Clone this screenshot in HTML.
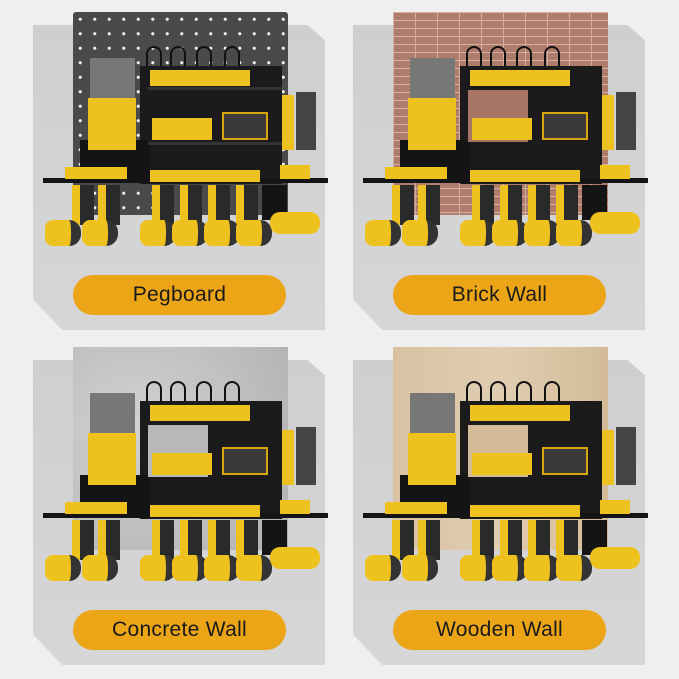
<!DOCTYPE html>
<html><head><meta charset="utf-8"><style>
*{margin:0;padding:0;box-sizing:border-box}
body{width:679px;height:679px;background:#efefef;position:relative;overflow:hidden;font-family:"Liberation Sans",sans-serif}
.q{position:absolute;width:340px;height:340px}
.card{position:absolute;left:33px;top:25px;width:292px;height:305px;background:linear-gradient(180deg,#cfcfcf,#d6d6d6);clip-path:polygon(0 0,94% 0,100% 5%,100% 100%,10% 100%,0 90%)}
.wall{position:absolute;left:73px;top:12px;width:215px;height:203px}
.peg{background-color:#4a4a4c;background-image:radial-gradient(circle,#eee 1.4px,transparent 1.8px);background-size:14.5px 14.5px;border-radius:3px}
.brick{background-color:#b07c6c;background-image:linear-gradient(#d4aea2 1px,transparent 1px),linear-gradient(90deg,#d4aea2 1px,transparent 1px);background-size:22px 8px}
.conc{background:#c2c2c2;background-image:radial-gradient(circle at 30% 40%,#d2d2d2,#b0b0b0)}
.wood{background:linear-gradient(90deg,#d8c2a2,#e0cdb0,#d3bb98)}
.b{position:absolute}
.k{background:#141414}
.y{background:#eec21e}
.yd{background:#d9a50c}
.pill{position:absolute;left:73px;top:275px;width:213px;height:40px;border-radius:20px;background:#eba517;color:#1a1a1a;font-size:21px;font-weight:normal;text-align:center;line-height:40px;letter-spacing:.3px}
.cab{position:absolute;top:46px;width:16px;height:22px;border:2px solid #111;border-bottom:none;border-radius:8px 8px 0 0}
.dr{position:absolute;top:185px;width:22px;height:40px;background:#2a2a2a;border-left:8px solid #eec21e}
.dh{position:absolute;top:220px;width:36px;height:26px;background:#eec21e;border-radius:8px 12px 12px 8px;border-right:10px solid #333}
</style></head><body>

<div class="q" style="left:0;top:0">
<div class="card"></div><div class="wall peg"></div>
<div class="cab" style="left:146px"></div><div class="cab" style="left:170px"></div><div class="cab" style="left:196px"></div><div class="cab" style="left:224px"></div>
<div class="b" style="left:140px;top:66px;width:142px;height:118px;background:#1b1b1b"></div>
<div class="b k" style="left:80px;top:140px;width:70px;height:40px"></div>
<div class="b y" style="left:150px;top:70px;width:100px;height:16px"></div>
<div class="b" style="left:148px;top:87px;width:134px;height:3px;background:#333"></div>
<div class="b" style="left:148px;top:142px;width:134px;height:3px;background:#333"></div>
<div class="b y" style="left:152px;top:118px;width:60px;height:22px"></div>
<div class="b" style="left:222px;top:112px;width:46px;height:28px;background:#3a3a3a;border:2px solid #d9a50c"></div>
<div class="b y" style="left:88px;top:98px;width:48px;height:52px"></div>
<div class="b" style="left:90px;top:58px;width:45px;height:40px;background:#777"></div>
<div class="b y" style="left:282px;top:95px;width:12px;height:55px"></div>
<div class="b" style="left:296px;top:92px;width:20px;height:58px;background:#444"></div>
<div class="b k" style="left:43px;top:178px;width:285px;height:5px"></div>
<div class="b y" style="left:65px;top:167px;width:62px;height:12px"></div>
<div class="b y" style="left:150px;top:170px;width:110px;height:12px"></div>
<div class="b y" style="left:280px;top:165px;width:30px;height:14px"></div>
<div class="dr" style="left:72px"></div><div class="dr" style="left:98px"></div>
<div class="dh" style="left:45px"></div><div class="dh" style="left:82px"></div>
<div class="dr" style="left:152px"></div><div class="dr" style="left:180px"></div><div class="dr" style="left:208px"></div><div class="dr" style="left:236px"></div>
<div class="dh" style="left:140px"></div><div class="dh" style="left:172px"></div><div class="dh" style="left:204px"></div><div class="dh" style="left:236px"></div>
<div class="b k" style="left:262px;top:185px;width:25px;height:35px"></div>
<div class="b y" style="left:270px;top:212px;width:50px;height:22px;border-radius:10px"></div>
<div class="pill">Pegboard</div>
</div>

<div class="q" style="left:320px;top:0">
<div class="card"></div><div class="wall brick"></div>
<div class="cab" style="left:146px"></div><div class="cab" style="left:170px"></div><div class="cab" style="left:196px"></div><div class="cab" style="left:224px"></div>
<div class="b" style="left:140px;top:66px;width:142px;height:118px;background:#1b1b1b"></div>
<div class="b k" style="left:80px;top:140px;width:70px;height:40px"></div>
<div class="b y" style="left:150px;top:70px;width:100px;height:16px"></div>
<div class="b" style="left:148px;top:90px;width:60px;height:52px;background:#a87565"></div>
<div class="b y" style="left:152px;top:118px;width:60px;height:22px"></div>
<div class="b" style="left:222px;top:112px;width:46px;height:28px;background:#3a3a3a;border:2px solid #d9a50c"></div>
<div class="b y" style="left:88px;top:98px;width:48px;height:52px"></div>
<div class="b" style="left:90px;top:58px;width:45px;height:40px;background:#777"></div>
<div class="b y" style="left:282px;top:95px;width:12px;height:55px"></div>
<div class="b" style="left:296px;top:92px;width:20px;height:58px;background:#444"></div>
<div class="b k" style="left:43px;top:178px;width:285px;height:5px"></div>
<div class="b y" style="left:65px;top:167px;width:62px;height:12px"></div>
<div class="b y" style="left:150px;top:170px;width:110px;height:12px"></div>
<div class="b y" style="left:280px;top:165px;width:30px;height:14px"></div>
<div class="dr" style="left:72px"></div><div class="dr" style="left:98px"></div>
<div class="dh" style="left:45px"></div><div class="dh" style="left:82px"></div>
<div class="dr" style="left:152px"></div><div class="dr" style="left:180px"></div><div class="dr" style="left:208px"></div><div class="dr" style="left:236px"></div>
<div class="dh" style="left:140px"></div><div class="dh" style="left:172px"></div><div class="dh" style="left:204px"></div><div class="dh" style="left:236px"></div>
<div class="b k" style="left:262px;top:185px;width:25px;height:35px"></div>
<div class="b y" style="left:270px;top:212px;width:50px;height:22px;border-radius:10px"></div>
<div class="pill">Brick Wall</div>
</div>

<div class="q" style="left:0;top:335px">
<div class="card"></div><div class="wall conc"></div>
<div class="cab" style="left:146px"></div><div class="cab" style="left:170px"></div><div class="cab" style="left:196px"></div><div class="cab" style="left:224px"></div>
<div class="b" style="left:140px;top:66px;width:142px;height:118px;background:#1b1b1b"></div>
<div class="b k" style="left:80px;top:140px;width:70px;height:40px"></div>
<div class="b y" style="left:150px;top:70px;width:100px;height:16px"></div>
<div class="b" style="left:148px;top:90px;width:60px;height:52px;background:#b8b8b8"></div>
<div class="b y" style="left:152px;top:118px;width:60px;height:22px"></div>
<div class="b" style="left:222px;top:112px;width:46px;height:28px;background:#3a3a3a;border:2px solid #d9a50c"></div>
<div class="b y" style="left:88px;top:98px;width:48px;height:52px"></div>
<div class="b" style="left:90px;top:58px;width:45px;height:40px;background:#777"></div>
<div class="b y" style="left:282px;top:95px;width:12px;height:55px"></div>
<div class="b" style="left:296px;top:92px;width:20px;height:58px;background:#444"></div>
<div class="b k" style="left:43px;top:178px;width:285px;height:5px"></div>
<div class="b y" style="left:65px;top:167px;width:62px;height:12px"></div>
<div class="b y" style="left:150px;top:170px;width:110px;height:12px"></div>
<div class="b y" style="left:280px;top:165px;width:30px;height:14px"></div>
<div class="dr" style="left:72px"></div><div class="dr" style="left:98px"></div>
<div class="dh" style="left:45px"></div><div class="dh" style="left:82px"></div>
<div class="dr" style="left:152px"></div><div class="dr" style="left:180px"></div><div class="dr" style="left:208px"></div><div class="dr" style="left:236px"></div>
<div class="dh" style="left:140px"></div><div class="dh" style="left:172px"></div><div class="dh" style="left:204px"></div><div class="dh" style="left:236px"></div>
<div class="b k" style="left:262px;top:185px;width:25px;height:35px"></div>
<div class="b y" style="left:270px;top:212px;width:50px;height:22px;border-radius:10px"></div>
<div class="pill">Concrete Wall</div>
</div>

<div class="q" style="left:320px;top:335px">
<div class="card"></div><div class="wall wood"></div>
<div class="cab" style="left:146px"></div><div class="cab" style="left:170px"></div><div class="cab" style="left:196px"></div><div class="cab" style="left:224px"></div>
<div class="b" style="left:140px;top:66px;width:142px;height:118px;background:#1b1b1b"></div>
<div class="b k" style="left:80px;top:140px;width:70px;height:40px"></div>
<div class="b y" style="left:150px;top:70px;width:100px;height:16px"></div>
<div class="b" style="left:148px;top:90px;width:60px;height:52px;background:#d3bb98"></div>
<div class="b y" style="left:152px;top:118px;width:60px;height:22px"></div>
<div class="b" style="left:222px;top:112px;width:46px;height:28px;background:#3a3a3a;border:2px solid #d9a50c"></div>
<div class="b y" style="left:88px;top:98px;width:48px;height:52px"></div>
<div class="b" style="left:90px;top:58px;width:45px;height:40px;background:#777"></div>
<div class="b y" style="left:282px;top:95px;width:12px;height:55px"></div>
<div class="b" style="left:296px;top:92px;width:20px;height:58px;background:#444"></div>
<div class="b k" style="left:43px;top:178px;width:285px;height:5px"></div>
<div class="b y" style="left:65px;top:167px;width:62px;height:12px"></div>
<div class="b y" style="left:150px;top:170px;width:110px;height:12px"></div>
<div class="b y" style="left:280px;top:165px;width:30px;height:14px"></div>
<div class="dr" style="left:72px"></div><div class="dr" style="left:98px"></div>
<div class="dh" style="left:45px"></div><div class="dh" style="left:82px"></div>
<div class="dr" style="left:152px"></div><div class="dr" style="left:180px"></div><div class="dr" style="left:208px"></div><div class="dr" style="left:236px"></div>
<div class="dh" style="left:140px"></div><div class="dh" style="left:172px"></div><div class="dh" style="left:204px"></div><div class="dh" style="left:236px"></div>
<div class="b k" style="left:262px;top:185px;width:25px;height:35px"></div>
<div class="b y" style="left:270px;top:212px;width:50px;height:22px;border-radius:10px"></div>
<div class="pill">Wooden Wall</div>
</div>

</body></html>
